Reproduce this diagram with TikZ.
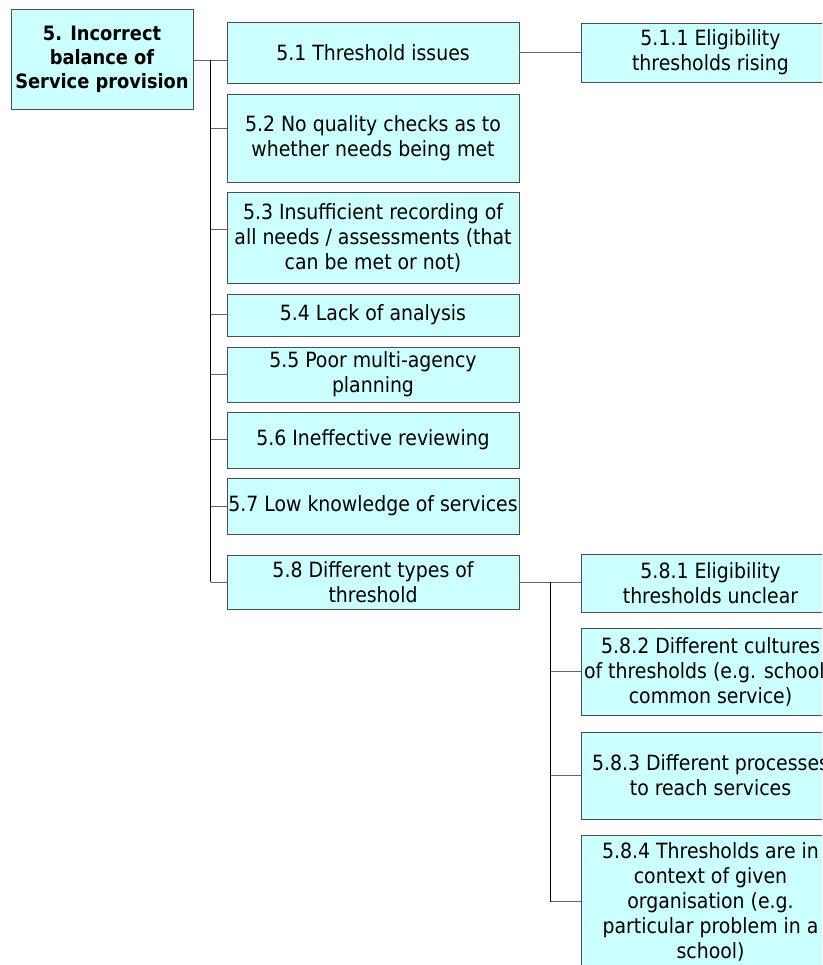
\documentclass[tikz,border=0pt]{standalone}
\usepackage{fontspec}
\setmainfont{DejaVu Sans Condensed}
\definecolor{boxfill}{HTML}{CCFFFF}
\definecolor{boxline}{HTML}{4D4D4D}
\definecolor{branchgrey}{HTML}{666666}
\begin{document}
\begin{tikzpicture}[x=1pt,y=-1pt,
  box/.style={draw=boxline, fill=boxfill, line width=0.9pt, inner sep=0pt,
              align=center, font=\fontsize{21}{25}\selectfont},
  wide/.style={box, minimum width=292pt},
  leaf/.style={box, minimum width=259pt},
  trunk/.style={draw=black, line width=0.9pt},
  branch/.style={draw=branchgrey, line width=0.9pt}]
\useasboundingbox (0,0) rectangle (822,965);
\clip (0,0) rectangle (822,965);

% root
\node[box, minimum width=182pt, minimum height=100pt,
      font=\bfseries\fontsize{19.8}{24}\selectfont] (root) at (102,59)
  {5. Incorrect\\balance of\\Service provision};

% first level
\node[wide, minimum height=61pt] (n51) at (373,52.5) {5.1 Threshold issues};
\node[wide, minimum height=88pt] (n52) at (373,138) {5.2 No quality checks as to\\whether needs being met};
\node[wide, minimum height=91pt] (n53) at (373,237.5) {5.3 Insufficient recording of\\all needs / assessments (that\\can be met or not)};
\node[wide, minimum height=42pt] (n54) at (373,315) {5.4 Lack of analysis};
\node[wide, minimum height=55pt] (n55) at (373,374.5) {5.5 Poor multi-agency\\planning};
\node[wide, minimum height=56pt] (n56) at (373,440) {5.6 Ineffective reviewing};
\node[wide, minimum height=56pt] (n57) at (373,506) {5.7 Low knowledge of services};
\node[wide, minimum height=54pt] (n58) at (373,582) {5.8 Different types of\\threshold};

% second level
\node[leaf, minimum height=59pt] (n511) at (710.5,52.5) {5.1.1 Eligibility\\thresholds rising};
\node[leaf, minimum height=58pt] (n581) at (710.5,583) {5.8.1 Eligibility\\thresholds unclear};
\node[leaf, minimum height=87pt] (n582) at (710.5,671.5) {5.8.2 Different cultures\\of thresholds (e.g. school /\\common service)};
\node[leaf, minimum height=87pt] (n583) at (710.5,775.5) {5.8.3 Different processes\\to reach services};
\node[leaf, minimum height=133pt] (n584) at (710.5,901.5) {5.8.4 Thresholds are in\\context of given\\organisation (e.g.\\particular problem in a\\school)};

% joints of the main bracket
\coordinate (j0) at (210.5,60);
\coordinate (c51) at ([yshift=-7.5pt]n51.west);
\coordinate (c52) at ([yshift=10pt]n52.west);
\coordinate (c53) at ([yshift=8.5pt]n53.west);
\coordinate (c54) at ([yshift=1pt]n54.west);
\coordinate (c55) at (n55.west);
\coordinate (c56) at ([yshift=1pt]n56.west);
\coordinate (c57) at (n57.west);
\coordinate (c58) at (n58.west);

\draw[branch] (root.east |- j0) -- (j0);
\foreach \c in {c51,c52,c53,c54,c55,c56,c57,c58}
  \draw[branch] (\c) -- (j0 |- \c);
\draw[trunk] (j0) -- (j0 |- c58);

% 5.1 to 5.1.1
\draw[branch] (n51.east) -- (n511.west |- n51.east);

% sub bracket under 5.8
\coordinate (k0) at (550,582);
\coordinate (c582) at (n582.west);
\coordinate (c583) at (n583.west);
\coordinate (c584) at (n584.west);
\draw[branch] (n58.east) -- (n581.west |- n58.east);
\foreach \c in {c582,c583,c584}
  \draw[branch] (\c) -- (k0 |- \c);
\draw[trunk] (k0) -- (k0 |- c584);
\end{tikzpicture}
\end{document}
